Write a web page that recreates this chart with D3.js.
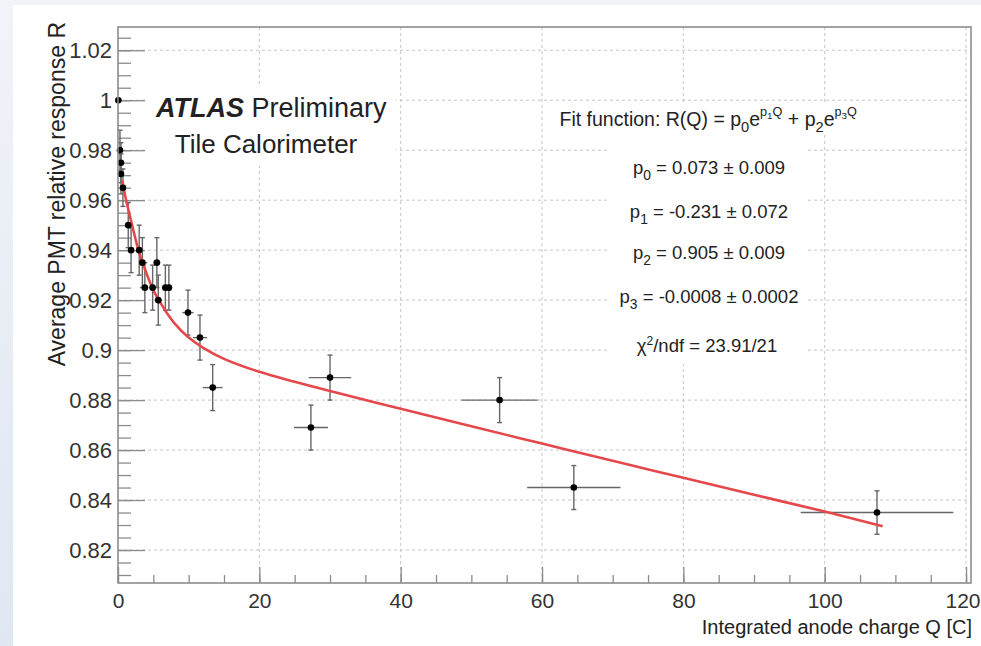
<!DOCTYPE html>
<meta charset="utf-8">
<style>

body {
  margin: 0;
}

text {
  font-family: "Liberation Sans", Arial, sans-serif;
  fill: #222;
}

.grid line {
  stroke: #c6c6c6;
  stroke-dasharray: 3,3;
}

.axis line {
  stroke: #8c8c8c;
  stroke-width: 1.3;
}

.axis path {
  display: none;
}

.axis text {
  fill: #333;
}

</style>
<body>
<script src="https://cdn.jsdelivr.net/npm/d3@7"></script>
<script>

// measured points: charge Q [C], response R, and their errors
var charge      = [0.05, 0.28, 0.42, 0.42, 0.7, 1.45, 1.85, 3.0, 3.45, 3.8, 4.9, 5.5, 5.7, 6.7, 7.2, 9.9, 11.6, 13.4, 27.3, 30.0, 54.0, 64.5, 107.4];
var response    = [1.000, 0.980, 0.975, 0.9705, 0.965, 0.950, 0.940, 0.940, 0.935, 0.925, 0.925, 0.935, 0.920, 0.925, 0.925, 0.915, 0.905, 0.885, 0.869, 0.889, 0.880, 0.845, 0.835];
var chargeErr   = [0, 0.1, 0.1, 0.1, 0.2, 0.3, 0.4, 0.4, 0.4, 0.5, 0.5, 0.5, 0.5, 0.5, 0.5, 0.8, 1.0, 1.4, 2.4, 3.0, 5.4, 6.6, 10.8];
var responseErr = [0, 0.008, 0.008, 0.008, 0.0075, 0.009, 0.009, 0.01, 0.01, 0.01, 0.009, 0.01, 0.01, 0.009, 0.009, 0.009, 0.009, 0.0092, 0.009, 0.009, 0.009, 0.0088, 0.0087];

// fit curve
var fitCharge   = [0.6, 1, 2, 3, 4, 5, 6, 7, 8, 10, 12, 15, 20, 25, 30, 40, 50, 60, 70, 80, 90, 100, 108.2];
var fitResponse = [0.968, 0.962, 0.950, 0.939, 0.931, 0.924, 0.919, 0.9145, 0.9107, 0.905, 0.901, 0.8965, 0.8913, 0.8873, 0.8836, 0.8765, 0.8695, 0.8626, 0.8557, 0.8489, 0.8421, 0.8354, 0.8295];

var xTicks = [0, 20, 40, 60, 80, 100, 120];
var yTicks = [0.82, 0.84, 0.86, 0.88, 0.9, 0.92, 0.94, 0.96, 0.98, 1, 1.02];

// fit parameter lines: [name index, text]
var paramLines = [
  ["0", " = 0.073 \u00b1 0.009"],
  ["1", " = -0.231 \u00b1 0.072"],
  ["2", " = 0.905 \u00b1 0.009"],
  ["3", " = -0.0008 \u00b1 0.0002"]
];

var width = 981,
    height = 646;

var svg = d3.select("body").append("svg")
    .attr("width", width)
    .attr("height", height);

var defs = svg.append("defs");
var grad = defs.append("linearGradient")
    .attr("id", "bg")
    .attr("x1", 0).attr("y1", 0).attr("x2", 0).attr("y2", 1);
grad.append("stop").attr("offset", "0%").attr("stop-color", "#f1f3f8");
grad.append("stop").attr("offset", "100%").attr("stop-color", "#dfe7f3");

svg.append("rect").attr("width", width).attr("height", height).attr("fill", "url(#bg)");
svg.append("rect").attr("x", 13).attr("y", 5)
    .attr("width", width - 13).attr("height", height - 5).attr("fill", "#fff");

var x = d3.scaleLinear().domain([0, 120.7]).range([118, 971]);
var y = d3.scaleLinear().domain([0.8068, 1.0293]).range([583, 27]);

// grid
var grid = svg.append("g").attr("class", "grid");
grid.selectAll(".gx").data(xTicks.slice(1)).enter().append("line")
    .attr("x1", x).attr("x2", x)
    .attr("y1", y.range()[1]).attr("y2", y.range()[0]);
grid.selectAll(".gy").data(yTicks).enter().append("line")
    .attr("x1", x.range()[0]).attr("x2", x.range()[1])
    .attr("y1", y).attr("y2", y);

// white boxes behind the text blocks
var boxes = [[148, 86, 248, 80], [552, 103, 318, 31], [608, 134, 200, 230]];
svg.selectAll(".box").data(boxes).enter().append("rect")
    .attr("x", function(d) { return d[0]; })
    .attr("y", function(d) { return d[1]; })
    .attr("width", function(d) { return d[2]; })
    .attr("height", function(d) { return d[3]; })
    .attr("fill", "#fff");

// x axis
svg.append("g")
    .attr("class", "axis")
    .attr("transform", "translate(0," + y.range()[0] + ")")
    .call(d3.axisBottom(x).tickValues(x.ticks(24)).tickFormat("").tickSizeInner(-8).tickSizeOuter(0));

var xLabels = svg.append("g")
    .attr("class", "axis")
    .attr("transform", "translate(0," + y.range()[0] + ")")
    .call(d3.axisBottom(x).tickValues(xTicks).tickFormat(d3.format("d")).tickSizeInner(-16).tickSizeOuter(0).tickPadding(10))
  .selectAll("text")
    .style("font-size", "21px");

// the last label sits against the page edge
xLabels.filter(function(d) { return d === 120; })
    .attr("text-anchor", "end")
    .attr("x", 980 - x(120));

// y axis
var yMinor = d3.range(162, 206).map(function(i) { return i * 0.005; });

svg.append("g")
    .attr("class", "axis")
    .attr("transform", "translate(" + x.range()[0] + ",0)")
    .call(d3.axisLeft(y).tickValues(yMinor).tickFormat("").tickSizeInner(-13).tickSizeOuter(0));

svg.append("g")
    .attr("class", "axis")
    .attr("transform", "translate(" + x.range()[0] + ",0)")
    .call(d3.axisLeft(y).tickValues(yTicks).tickFormat(function(d) { return d3.format("")(+d.toFixed(2)); })
        .tickSizeInner(-27).tickSizeOuter(0).tickPadding(6))
  .selectAll("text")
    .style("font-size", "22px");

// axis titles
svg.append("text")
    .attr("x", 972)
    .attr("y", 634)
    .attr("text-anchor", "end")
    .style("font-size", "20px")
    .text("Integrated anode charge Q [C]");

svg.append("text")
    .attr("transform", "translate(65,22) rotate(-90)")
    .attr("text-anchor", "end")
    .style("font-size", "23px")
    .text("Average PMT relative response R");

// points
var points = d3.range(charge.length);

var errs = svg.append("g")
    .attr("stroke", "#666")
    .attr("stroke-width", 1.4);

errs.selectAll(".ex").data(points).enter().append("line")
    .attr("x1", function(i) { return x(Math.max(0, charge[i] - chargeErr[i])); })
    .attr("x2", function(i) { return x(charge[i] + chargeErr[i]); })
    .attr("y1", function(i) { return y(response[i]); })
    .attr("y2", function(i) { return y(response[i]); });

errs.selectAll(".ey").data(points).enter().append("line")
    .attr("x1", function(i) { return x(charge[i]); })
    .attr("x2", function(i) { return x(charge[i]); })
    .attr("y1", function(i) { return y(response[i] - responseErr[i]); })
    .attr("y2", function(i) { return y(response[i] + responseErr[i]); });

[-1, 1].forEach(function(s) {
  errs.selectAll(".cap").data(points.filter(function(i) { return responseErr[i] > 0; }), function() {}).enter().append("line")
      .attr("x1", function(i) { return x(charge[i]) - 2.5; })
      .attr("x2", function(i) { return x(charge[i]) + 2.5; })
      .attr("y1", function(i) { return y(response[i] + s * responseErr[i]); })
      .attr("y2", function(i) { return y(response[i] + s * responseErr[i]); });
});

// fit curve
var line = d3.line()
    .x(function(i) { return x(fitCharge[i]); })
    .y(function(i) { return y(fitResponse[i]); })
    .curve(d3.curveCatmullRom);

svg.append("path")
    .attr("d", line(d3.range(fitCharge.length)))
    .attr("fill", "none")
    .attr("stroke", "#e5484b")
    .attr("stroke-width", 2.6);

svg.selectAll(".dot").data(points).enter().append("circle")
    .attr("cx", function(i) { return x(charge[i]); })
    .attr("cy", function(i) { return y(response[i]); })
    .attr("r", 3.3)
    .attr("fill", "#000");

// labels
var atlas = svg.append("text")
    .attr("x", 156)
    .attr("y", 117)
    .style("font-size", "27px");
atlas.append("tspan").style("font-weight", "bold").style("font-style", "italic").text("ATLAS");
atlas.append("tspan").text(" Preliminary");

svg.append("text")
    .attr("x", 266)
    .attr("y", 153)
    .attr("text-anchor", "middle")
    .style("font-size", "26px")
    .text("Tile Calorimeter");

// pieces: [text, relative size, dy]
function rich(sel, pieces) {
  pieces.forEach(function(p) {
    sel.append("tspan")
        .attr("dy", p[2] || 0)
        .style("font-size", p[1] ? (p[1] * 100) + "%" : null)
        .text(p[0]);
  });
}

var cx = 709;

rich(svg.append("text")
    .attr("x", cx).attr("y", 126).attr("text-anchor", "middle").style("font-size", "19.5px"),
  [["Fit function: R(Q) = p"], ["0", 0.75, 6], ["e", 1, -6],
   ["p", 0.65, -10], ["1", 0.5, 3], ["Q", 0.65, -3], [" + p", 1, 10],
   ["2", 0.75, 6], ["e", 1, -6],
   ["p", 0.65, -10], ["3", 0.5, 3], ["Q", 0.65, -3], ["\u200a", 1, 10]]);

var paramY = [174, 218, 259, 303];
paramLines.forEach(function(d, i) {
  rich(svg.append("text")
      .attr("x", cx).attr("y", paramY[i]).attr("text-anchor", "middle").style("font-size", "18.5px"),
    [["p"], [d[0], 0.75, 6], [d[1], 1, -6]]);
});

rich(svg.append("text")
    .attr("x", cx - 2).attr("y", 352).attr("text-anchor", "middle").style("font-size", "18.5px"),
  [["\u03c7"], ["2", 0.65, -7], ["/ndf = 23.91/21", 1, 7]]);

// frame
svg.append("rect")
    .attr("x", x.range()[0])
    .attr("y", y.range()[1])
    .attr("width", x.range()[1] - x.range()[0])
    .attr("height", y.range()[0] - y.range()[1])
    .attr("fill", "none")
    .attr("stroke", "#8c8c8c")
    .attr("stroke-width", 1.6);

</script>
